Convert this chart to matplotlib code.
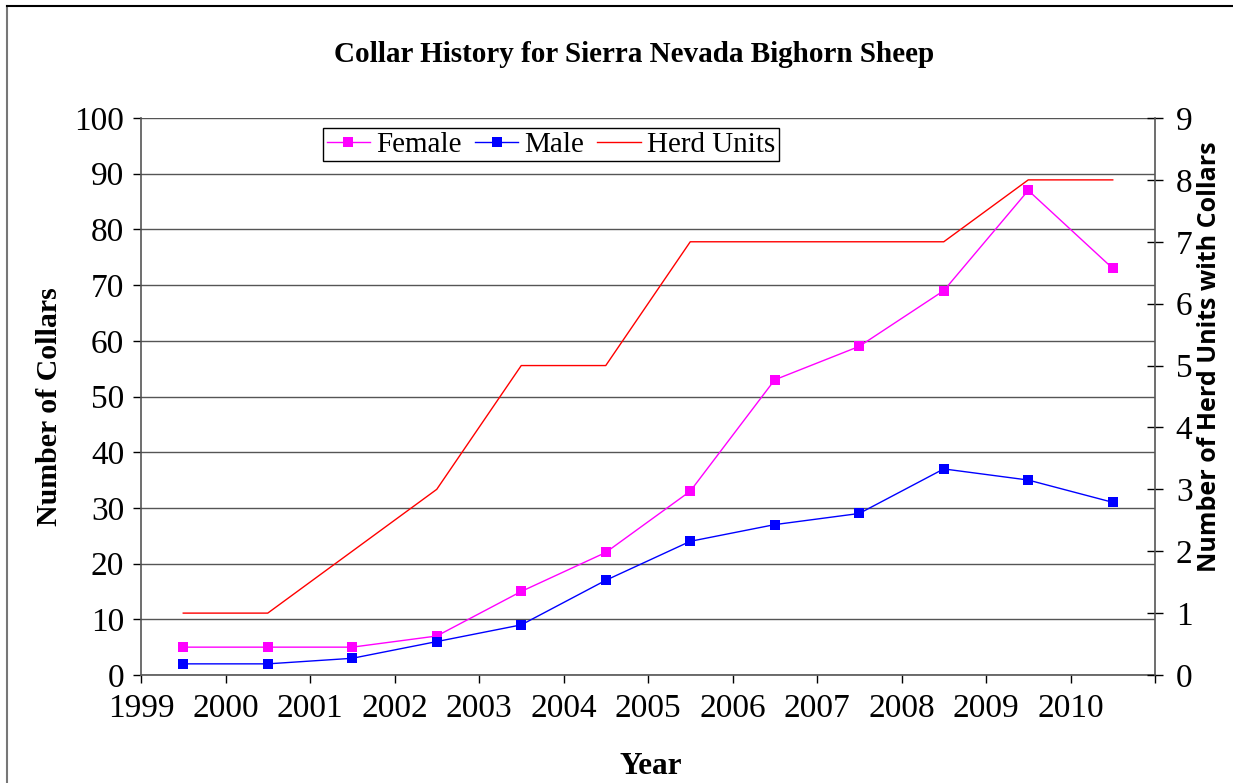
import matplotlib
matplotlib.use("Agg")
import matplotlib.pyplot as plt
from matplotlib.lines import Line2D

years = [1999.5, 2000.5, 2001.5, 2002.5, 2003.5, 2004.5, 2005.5, 2006.5, 2007.5, 2008.5, 2009.5, 2010.5]
female = [5, 5, 5, 7, 15, 22, 33, 53, 59, 69, 87, 73]
male = [2, 2, 3, 6, 9, 17, 24, 27, 29, 37, 35, 31]
herd_units = [1, 1, 2, 3, 5, 5, 7, 7, 7, 7, 8, 8]
tick_years = list(range(1999, 2012))
tick_labels = [str(y) for y in range(1999, 2011)] + [""]

serif = "Liberation Serif"
W, H = 1233, 783
fig = plt.figure(figsize=(W / 100, H / 100), dpi=100)
L, R, T, B = 141, 1155, 118, 675
ax = fig.add_axes([L / W, 1 - B / H, (R - L) / W, (B - T) / H])
ax2 = ax.twinx()

gc = "#555555"
ax.set_xlim(1999, 2011)
ax.set_ylim(0, 100)
ax2.set_ylim(0, 9)
ax.set_yticks(range(0, 101, 10))
ax2.set_yticks(range(0, 10))
ax.set_xticks(tick_years)
ax.set_xticklabels(tick_labels)
ax.grid(axis="y", color=gc, linewidth=1.0)
ax.set_axisbelow(True)

for a in (ax, ax2):
    for s in a.spines.values():
        s.set_color(gc)
        s.set_linewidth(1.2)
    a.spines["top"].set_visible(False)
ax.spines["right"].set_visible(False)
ax2.spines["left"].set_visible(False)
ax2.spines["bottom"].set_visible(False)

ax.tick_params(axis="both", direction="out", length=6, width=1, color="black",
               labelsize=24, pad=6)
ax.tick_params(axis="x", pad=7)
ax2.tick_params(axis="y", direction="inout", length=12, width=1, color="black",
                labelsize=24, pad=9)
for lab in ax.get_xticklabels() + ax.get_yticklabels() + ax2.get_yticklabels():
    lab.set_fontfamily(serif)

ms = 7.5
ax2.plot(years, herd_units, color="#FF0000", linewidth=1.0, zorder=2)
ax.plot(years, female, color="#FF00FF", linewidth=1.0, marker="s", markersize=ms,
        markeredgewidth=0, zorder=3)
ax.plot(years, male, color="#0000FF", linewidth=1.0, marker="s", markersize=ms,
        markeredgewidth=0, zorder=3)

fig.text(50 / W, 1 - 407 / H, "Number of Collars", fontfamily=serif, fontweight="bold",
         fontsize=21.5, rotation=90, ha="center", va="center")
fig.text(1209 / W, 1 - 357 / H, "Number of Herd Units with Collars", fontfamily="Open Sans",
         fontweight="bold", fontsize=18, rotation=90, ha="center", va="center")
fig.text(651 / W, 1 - 767 / H, "Year", fontfamily=serif, fontweight="bold", fontsize=22.5,
         ha="center", va="center")
fig.text(634 / W, 1 - 54 / H, "Collar History for Sierra Nevada Bighorn Sheep", fontfamily=serif,
         fontweight="bold", fontsize=21, ha="center", va="center")

handles = [
    Line2D([], [], color="#FF00FF", linewidth=1.0, marker="s", markersize=ms, markeredgewidth=0),
    Line2D([], [], color="#0000FF", linewidth=1.0, marker="s", markersize=ms, markeredgewidth=0),
    Line2D([], [], color="#FF0000", linewidth=1.0),
]
leg = ax2.legend(handles, ["Female", "Male", "Herd Units"], ncol=3, loc="upper left",
                 bbox_to_anchor=((323 - L) / (R - L), (B - 128) / (B - T)), borderaxespad=0,
                 frameon=True, fancybox=False, shadow=False, framealpha=1,
                 prop={"family": serif, "size": 21}, handlelength=1.5, handletextpad=0.2,
                 columnspacing=0.45, borderpad=0.12)
leg.get_frame().set_edgecolor("black")
leg.get_frame().set_linewidth(1.0)

fig.add_artist(Line2D([7 / W, 7 / W], [0, 1 - 6 / H], transform=fig.transFigure, color="#777777", linewidth=1.5))
fig.add_artist(Line2D([7 / W, 1], [1 - 6 / H, 1 - 6 / H], transform=fig.transFigure, color="black", linewidth=1.5))

fig.savefig("out.png", dpi=100)
